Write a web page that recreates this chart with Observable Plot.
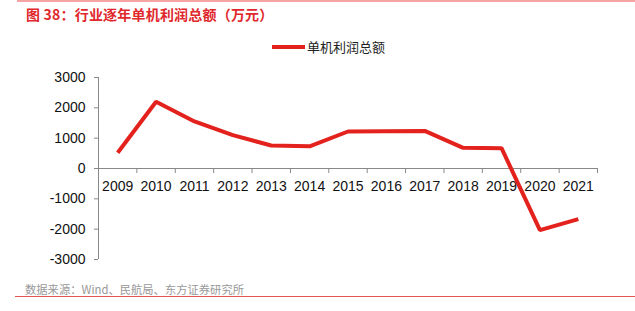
<!DOCTYPE html>
<html>
<head>
<meta charset="utf-8">
<script src="https://cdn.jsdelivr.net/npm/d3@7"></script>
<script src="https://cdn.jsdelivr.net/npm/@observablehq/plot@0.6"></script>
<style>
  html, body { margin: 0; padding: 0; background: #fff; }
  #wrap { position: relative; width: 635px; height: 311px; overflow: hidden;
          font-family: "Liberation Sans", "Noto Sans CJK SC", sans-serif; }
  #topline { position: absolute; left: 17px; top: 0; width: 618px; height: 2px; background: #f5a3a3; }
  #title { position: absolute; left: 26px; top: 5px; font-size: 14px; line-height: 18px; font-weight: bold; color: #e0282c;
           font-family: "Noto Sans CJK SC", "Liberation Sans", sans-serif; letter-spacing: 0.2px; }
  #legend { position: absolute; left: 272px; top: 38px; font-size: 13px; line-height: 18px; color: #222;
            font-family: "Noto Sans CJK SC", sans-serif; display: flex; align-items: center; }
  #legend .sw { display: inline-block; width: 33px; height: 4px; background: #e3211d; margin-right: 2px; }
  #chart { position: absolute; left: 0; top: 60px; }
  #source { position: absolute; left: 25px; top: 282px; font-size: 11.3px; line-height: 15px; color: #999;
            font-family: "Noto Sans CJK SC", sans-serif; }
  #bottomline { position: absolute; left: 15px; top: 296px; width: 620px; height: 1px; background: #e25555; }
</style>
</head>
<body>
<div id="wrap">
  <div id="topline"></div>
  <div id="title">图 38：行业逐年单机利润总额（万元）</div>
  <div id="legend"><span class="sw"></span><span>单机利润总额</span></div>
  <div id="chart"></div>
  <div id="source">数据来源：Wind、民航局、东方证券研究所</div>
  <div id="bottomline"></div>
</div>
<script>
const years = [2009, 2010, 2011, 2012, 2013, 2014, 2015, 2016, 2017, 2018, 2019, 2020, 2021];
const profits = [520, 2200, 1550, 1100, 760, 730, 1220, 1230, 1240, 680, 670, -2030, -1670];
const yTicks = [-3000, -2000, -1000, 0, 1000, 2000, 3000];

const data = years.map((y, i) => ({year: y, value: profits[i]}));
const boundaries = years.map(y => y + 0.5);
const xDomain = [years[0] - 0.5, years[years.length - 1] + 0.5];

const chart = Plot.plot({
  width: 635,
  height: 215,
  marginTop: 17,
  marginBottom: 16,
  marginLeft: 98,
  marginRight: 38,
  style: {fontFamily: "Liberation Sans, sans-serif", background: "transparent"},
  x: {domain: xDomain, axis: null},
  y: {domain: [yTicks[0], yTicks[yTicks.length - 1]], axis: null},
  marks: [
    Plot.ruleX([xDomain[0]], {y1: yTicks[0], y2: yTicks[yTicks.length - 1], stroke: "#888"}),
    Plot.axisY(yTicks, {tickSize: 4, tickPadding: 9, fontSize: 14, stroke: "#888", fill: "#111", label: null, tickFormat: d => String(d)}),
    Plot.ruleY([0], {stroke: "#888"}),
    Plot.ruleX(boundaries, {y1: () => 0, y2: () => 0, insetBottom: -5, stroke: "#888"}),
    Plot.text(data, {x: "year", y: () => 0, text: d => String(d.year), dy: 18, fontSize: 14, fill: "#111"}),
    Plot.line(data, {x: "year", y: "value", stroke: "#e3211d", strokeWidth: 4, strokeLinejoin: "miter", strokeLinecap: "butt"})
  ]
});
document.getElementById("chart").appendChild(chart);
</script>
</body>
</html>
